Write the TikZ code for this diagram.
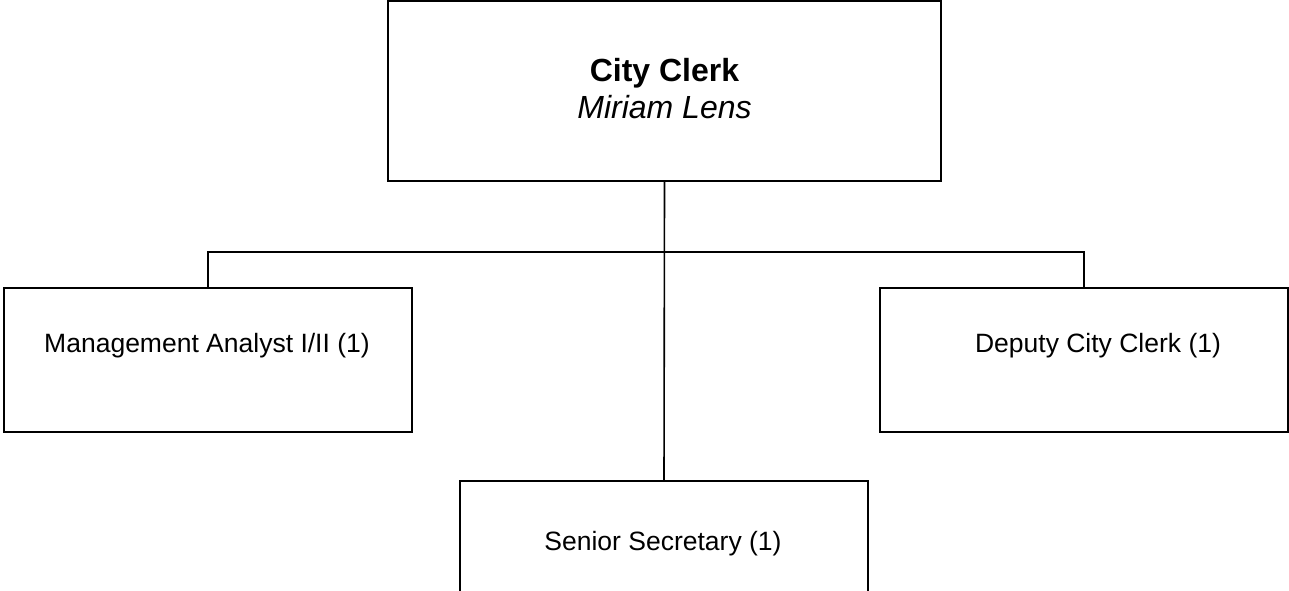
\documentclass[tikz,border=0pt]{standalone}
\usepackage{fontspec}
\setmainfont{Liberation Sans}
\begin{document}
\begin{tikzpicture}[x=1pt,y=-1pt,
  orgbox/.style={draw=black,line width=1.6pt,rectangle,inner sep=0pt,fill=none},
  link/.style={draw=black,line width=1.6pt},
  lbl/.style={inner sep=0pt,anchor=base,font=\fontsize{26.5}{30}\selectfont},
  toplbl/.style={inner sep=0pt,anchor=base,font=\fontsize{32}{36}\selectfont}]
  \clip (0,0) rectangle (1289,590);
  \fill[white] (0,0) rectangle (1289,590);

  % boxes
  \node[orgbox,minimum width=553pt,minimum height=180pt] (clerk) at (664.5,91) {};
  \node[orgbox,minimum width=408pt,minimum height=144pt] (analyst) at (208,360) {};
  \node[orgbox,minimum width=408pt,minimum height=144pt] (deputy) at (1084,360) {};
  \node[orgbox,minimum width=408pt,minimum height=160pt] (secretary) at (664,561) {};

  % labels
  \node[toplbl] (clerkT) at (664.5,81) {\textbf{City Clerk}};
  \node[toplbl] (clerkN) at (664.5,118) {\textit{Miriam Lens}};
  \node[lbl] (analystT) at (207,352) {Management Analyst I/II (1)};
  \node[lbl] (deputyT) at (1098,352) {Deputy City Clerk (1)};
  \node[lbl] (secretaryT) at (663,550) {Senior Secretary (1)};

  % connectors
  \coordinate (bus) at (664,252);
  \draw[link] (clerk.south) -- (secretary.north);
  \draw[link] (analyst.north) |- (bus) -| (deputy.north);
\end{tikzpicture}
\end{document}
